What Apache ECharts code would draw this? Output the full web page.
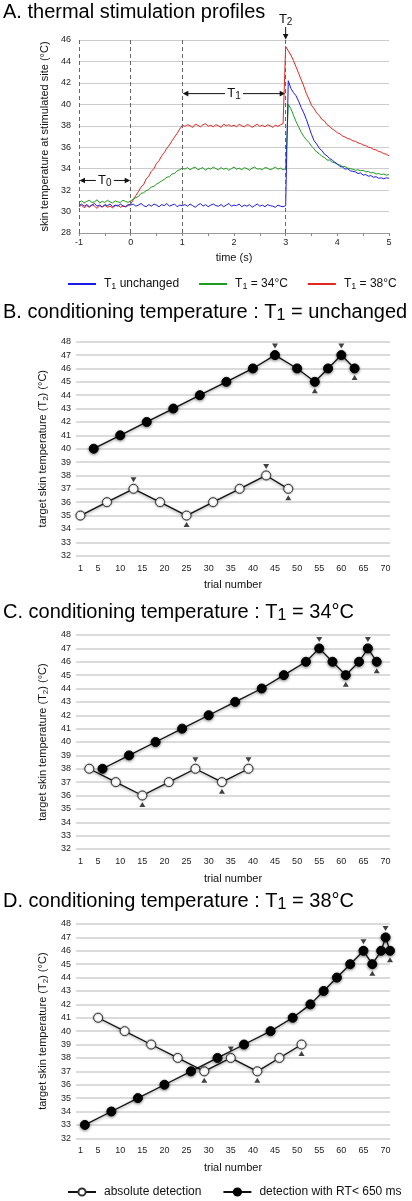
<!DOCTYPE html>
<html><head><meta charset="utf-8">
<script src="https://cdn.jsdelivr.net/npm/echarts@6/dist/echarts.min.js"></script>
<style>html,body{margin:0;padding:0;background:#fff}#c{width:412px;height:1201px}</style>
</head><body><div id="c"></div><script>
const FONT = "'Liberation Sans', Arial, Helvetica, sans-serif";

// ---------- Panel A : thermal stimulation profiles ----------
const timeS = [-1,-0.95,-0.9,-0.85,-0.8,-0.75,-0.7,-0.65,-0.6,-0.55,-0.5,-0.45,-0.4,-0.35,-0.3,-0.25,-0.2,-0.15,-0.1,-0.05,0,
0.05,0.1,0.15,0.2,0.25,0.3,0.35,0.4,0.45,0.5,0.55,0.6,0.65,0.7,0.75,0.8,0.85,0.9,0.95,1,
1.05,1.1,1.15,1.2,1.25,1.3,1.35,1.4,1.45,1.5,1.55,1.6,1.65,1.7,1.75,1.8,1.85,1.9,1.95,2,
2.05,2.1,2.15,2.2,2.25,2.3,2.35,2.4,2.45,2.5,2.55,2.6,2.65,2.7,2.75,2.8,2.85,2.9,2.95,3,
3.05,3.1,3.15,3.2,3.25,3.3,3.35,3.4,3.45,3.5,3.55,3.6,3.65,3.7,3.75,3.8,3.85,3.9,3.95,4,
4.05,4.1,4.15,4.2,4.25,4.3,4.35,4.4,4.45,4.5,4.55,4.6,4.65,4.7,4.75,4.8,4.85,4.9,4.95,5];

const tempUnchanged = [30.55,30.7,30.5,30.65,30.45,30.6,30.75,30.5,30.6,30.4,30.65,30.55,30.7,30.45,30.6,30.5,30.7,30.55,30.45,30.65,30.6,
30.7,30.5,30.6,30.75,30.55,30.45,30.65,30.5,30.7,30.6,30.45,30.65,30.55,30.75,30.5,30.6,30.7,30.45,30.6,30.55,
30.65,30.5,30.7,30.55,30.4,30.6,30.75,30.5,30.65,30.45,30.6,30.7,30.55,30.5,30.65,30.45,30.6,30.75,30.5,30.6,
30.55,30.7,30.45,30.6,30.5,30.65,30.4,30.55,30.7,30.5,30.6,30.45,30.65,30.55,30.5,30.4,30.6,30.5,30.45,30.55,
42.2,41.5,41.1,40.8,40.3,39.7,39.2,38.6,37.9,37.2,36.6,36.3,35.9,35.7,35.35,35.2,34.95,34.8,34.6,
34.45,34.2,34.15,33.95,34.0,33.8,33.75,33.7,33.55,33.6,33.4,33.45,33.3,33.35,33.2,33.25,33.1,33.15,33.05,33.15,33.1];

const temp34 = [30.85,31.0,30.8,30.95,31.05,30.85,30.9,31.1,30.8,30.95,30.85,31.05,30.9,30.8,31.0,30.9,30.85,31.05,30.95,30.85,31.0,
31.15,31.3,31.4,31.7,31.75,31.95,32.05,32.3,32.35,32.55,32.7,32.85,33.0,33.2,33.25,33.5,33.55,33.8,33.9,34.05,
33.95,34.1,33.9,34.05,34.15,33.9,34.0,34.1,33.85,34.05,33.95,34.15,34.0,33.9,34.1,33.95,34.05,33.85,34.0,34.15,
33.95,34.05,33.9,34.1,34.0,33.85,34.05,34.15,33.95,34.0,33.9,34.1,34.05,33.9,34.0,34.15,33.95,34.05,33.9,34.0,
40.0,39.6,39.0,38.4,37.9,37.4,37.0,36.7,36.45,36.1,35.85,35.55,35.4,35.15,35.05,34.8,34.8,34.6,34.55,34.4,
34.35,34.2,34.2,34.05,34.0,33.95,33.85,33.9,33.8,33.85,33.7,33.75,33.6,33.65,33.5,33.55,33.45,33.5,33.4,33.45];

const temp38 = [30.45,30.6,30.35,30.55,30.4,30.65,30.5,30.3,30.55,30.45,30.6,30.4,30.5,30.35,30.55,30.6,30.4,30.5,30.45,30.55,30.7,
31.1,31.5,31.85,32.3,32.5,33.05,33.3,33.75,34.0,34.5,34.75,35.2,35.5,35.9,36.2,36.6,36.95,37.3,37.7,38.05,
37.95,38.1,38.0,37.85,38.15,38.05,37.9,38.1,38.2,37.95,38.05,37.9,38.1,38.0,37.85,38.15,38.0,38.1,37.95,38.05,
37.9,38.15,38.0,37.9,38.1,38.05,37.85,38.0,38.15,37.95,38.05,37.9,38.1,38.0,37.85,38.05,37.95,38.1,38.2,45.4,
45.0,44.6,44.1,43.5,42.9,42.3,41.7,41.0,40.5,39.9,39.6,39.2,38.95,38.6,38.45,38.1,37.95,37.7,37.55,37.35,
37.25,37.05,36.95,36.8,36.75,36.6,36.55,36.4,36.35,36.2,36.15,36.0,35.95,35.8,35.75,35.6,35.55,35.4,35.35,35.2];

const phaseMarks = [-1, 0, 1, 3];   // dashed phase boundaries (s)

// ---------- Panels B-D : staircases ----------
const trialTicks = [1,5,10,15,20,25,30,35,40,45,50,55,60,65,70];

const trialsB_abs = [1,7,13,19,25,31,37,43,48];
const tempB_abs   = [35,36,37,36,35,36,37,38,37];
const trialsB_rt  = [4,10,16,22,28,34,40,45,50,54,57,60,63];
const tempB_rt    = [40,41,42,43,44,45,46,47,46,45,46,47,46];
const revDownB = [[13,37],[43,38],[45,47],[60,47]];
const revUpB   = [[25,35],[48,37],[54,45],[63,46]];

const trialsC_abs = [3,9,15,21,27,33,39];
const tempC_abs   = [38,37,36,37,38,37,38];
const trialsC_rt  = [6,12,18,24,30,36,42,47,52,55,58,61,64,66,68];
const tempC_rt    = [38,39,40,41,42,43,44,45,46,47,46,45,46,47,46];
const revDownC = [[27,38],[39,38],[55,47],[66,47]];
const revUpC   = [[15,36],[33,37],[61,45],[68,46]];

const trialsD_abs = [5,11,17,23,29,35,41,46,51];
const tempD_abs   = [41,40,39,38,37,38,37,38,39];
const trialsD_rt  = [2,8,14,20,26,32,38,44,49,53,56,59,62,65,67,69,70,71];
const tempD_rt    = [33,34,35,36,37,38,39,40,41,42,43,44,45,46,45,46,47,46];
const revDownD = [[35,38],[65,46],[70,47]];
const revUpD   = [[29,37],[41,37],[51,39],[67,45],[71,46]];

const chart = echarts.init(document.getElementById('c'), null, {renderer:'canvas'});

const titleRich = {
  m: {fontSize: 20, lineHeight: 24, fontFamily: FONT, fontWeight: 'normal', color: '#000'},
  s: {fontSize: 16, lineHeight: 16, verticalAlign: 'bottom', fontFamily: FONT, fontWeight: 'normal', color: '#000'}
};
const nameRich = {
  m: {fontSize: 11, lineHeight: 14, fontFamily: FONT, color: '#111'},
  s: {fontSize: 8, lineHeight: 8, verticalAlign: 'bottom', fontFamily: FONT, color: '#111'}
};
function mkTitle(txt, top) {
  return {text: txt, left: 3, top: top, padding: 0,
    textStyle: {fontFamily: FONT, fontWeight: 'normal', fontSize: 20, color: '#000', rich: titleRich}};
}

function profile(name, vals, color, extra) {
  return Object.assign({
    name, type: 'line', xAxisIndex: 0, yAxisIndex: 0, symbol: 'none',
    data: vals.map((v, i) => [timeS[i], v]),
    lineStyle: {color, width: 1}, itemStyle: {color}, animation: false
  }, extra || {});
}

const shadow = {shadowBlur: 3, shadowColor: 'rgba(0,0,0,0.45)', shadowOffsetY: 1};
function panel(k, tA, vA, tR, vR, down, up) {
  return [
    {name: 'absolute detection', type: 'line', xAxisIndex: k, yAxisIndex: k, clip: false,
      data: tA.map((t, i) => [t, vA[i]]), symbol: 'circle', symbolSize: 9, showAllSymbol: true,
      lineStyle: Object.assign({color: '#111', width: 1.3}, shadow),
      itemStyle: {color: '#fff', borderColor: '#333', borderWidth: 1, shadowBlur: 2, shadowColor: 'rgba(0,0,0,0.4)'},
      animation: false, z: 3},
    {name: 'detection with RT< 650 ms', type: 'line', xAxisIndex: k, yAxisIndex: k, clip: false,
      data: tR.map((t, i) => [t, vR[i]]), symbol: 'circle', symbolSize: 9, showAllSymbol: true,
      lineStyle: Object.assign({color: '#111', width: 1.3}, shadow),
      itemStyle: Object.assign({color: '#000', borderColor: '#000', borderWidth: 1}, shadow),
      animation: false, z: 4},
    {type: 'scatter', xAxisIndex: k, yAxisIndex: k, data: down, symbol: 'triangle', symbolRotate: 180,
      symbolSize: [6, 5], symbolOffset: [0, -9], itemStyle: {color: '#111'}, silent: true, animation: false, clip: false},
    {type: 'scatter', xAxisIndex: k, yAxisIndex: k, data: up, symbol: 'triangle',
      symbolSize: [6, 5], symbolOffset: [0, 9], itemStyle: {color: '#111'}, silent: true, animation: false, clip: false}
  ];
}

const trialX = (k) => ({
  type: 'value', gridIndex: k, min: 0, max: 71,
  axisLine: {show: false}, axisTick: {show: false}, splitLine: {show: false},
  axisLabel: {customValues: trialTicks, fontSize: 9, color: '#222', fontFamily: FONT, margin: 8},
  name: 'trial number', nameLocation: 'middle', nameGap: 24,
  nameTextStyle: {fontSize: 11, color: '#111', fontFamily: FONT}
});
const tempY = (k) => ({
  type: 'value', gridIndex: k, min: 32, max: 48, interval: 1,
  axisLine: {show: false}, axisTick: {show: false},
  splitLine: {lineStyle: {color: '#cfcfcf', width: 1.5}},
  axisLabel: {fontSize: 9, color: '#222', fontFamily: FONT, margin: 5},
  name: '{m|target skin temperature (T}{s|2}{m|) (°C)}', nameLocation: 'middle', nameRotate: 90, nameGap: 26,
  nameTextStyle: {fontSize: 11, color: '#111', fontFamily: FONT, rich: nameRich}
});

const option = {
  animation: false,
  backgroundColor: '#fff',
  textStyle: {fontFamily: FONT},
  title: [
    mkTitle('{m|A. thermal stimulation profiles}', 0),
    mkTitle('{m|B. conditioning temperature : T}{s|1}{m| = unchanged}', 300),
    mkTitle('{m|C. conditioning temperature : T}{s|1}{m| = 34°C}', 600),
    mkTitle('{m|D. conditioning temperature : T}{s|1}{m| = 38°C}', 889)
  ],
  legend: [
    {data: ['T1 unchanged', 'T1 = 34°C', 'T1 = 38°C'], top: 273, left: 63, itemWidth: 28, itemHeight: 2, itemGap: 20,
      icon: 'rect',
      formatter: (n) => '{m|T}{s|1}{m|' + n.slice(2) + '}',
      textStyle: {fontSize: 12, color: '#111', fontFamily: FONT, padding: [0, 0, 0, 3],
        rich: {m: {fontSize: 12, lineHeight: 15, fontFamily: FONT, color: '#111'},
               s: {fontSize: 9, lineHeight: 9, verticalAlign: 'bottom', fontFamily: FONT, color: '#111'}}}},
    {data: ['absolute detection', 'detection with RT< 650 ms'], top: 1181, left: 62, itemWidth: 28, itemHeight: 9, itemGap: 21,
      textStyle: {fontSize: 12, color: '#111', fontFamily: FONT, padding: [0, 0, 0, 3]}}
  ],
  grid: [
    {left: 79, width: 310, top: 40, height: 193},
    {left: 76, width: 314, top: 341.7, height: 214},
    {left: 76, width: 314, top: 635, height: 214},
    {left: 76, width: 314, top: 924, height: 214.3}
  ],
  xAxis: [
    {type: 'value', gridIndex: 0, min: -1, max: 5, interval: 1,
      axisLine: {show: true, onZero: false, lineStyle: {color: '#999'}},
      axisTick: {show: true, length: 3, lineStyle: {color: '#888'}},
      minorTick: {show: true, splitNumber: 2, length: 3, lineStyle: {color: '#888'}},
      splitLine: {show: false},
      axisLabel: {fontSize: 9, color: '#222', fontFamily: FONT, margin: 5},
      name: 'time (s)', nameLocation: 'middle', nameGap: 19,
      nameTextStyle: {fontSize: 11, color: '#111', fontFamily: FONT}},
    trialX(1), trialX(2), trialX(3)
  ],
  yAxis: [
    {type: 'value', gridIndex: 0, min: 28, max: 46, interval: 2,
      axisLine: {show: false}, axisTick: {show: false},
      splitLine: {lineStyle: {color: '#cccccc', width: 1}},
      axisLabel: {fontSize: 9, color: '#222', fontFamily: FONT, margin: 8},
      name: 'skin temperature at stimulated site (°C)', nameLocation: 'middle', nameRotate: 90, nameGap: 28,
      nameTextStyle: {fontSize: 11, color: '#111', fontFamily: FONT}},
    tempY(1), tempY(2), tempY(3)
  ],
  series: [
    profile('T1 = 38°C', temp38, '#e3261f', {
      markLine: {silent: true, symbol: 'none', animation: false, label: {show: false},
        lineStyle: {type: [4, 3], color: '#666', width: 1},
        data: phaseMarks.map(x => ({xAxis: x}))}
    }),
    profile('T1 = 34°C', temp34, '#1e9a1e'),
    profile('T1 unchanged', tempUnchanged, '#1a1ae6'),
    ...panel(1, trialsB_abs, tempB_abs, trialsB_rt, tempB_rt, revDownB, revUpB),
    ...panel(2, trialsC_abs, tempC_abs, trialsC_rt, tempC_rt, revDownC, revUpC),
    ...panel(3, trialsD_abs, tempD_abs, trialsD_rt, tempD_rt, revDownD, revUpD)
  ]
};
chart.setOption(option);

// ---------- annotations for panel A (T0, T1, T2) ----------
const annRich = {
  m: {fontSize: 13, lineHeight: 16, fontFamily: FONT, fill: '#111'},
  s: {fontSize: 10, lineHeight: 10, verticalAlign: 'bottom', fontFamily: FONT, fill: '#111'}
};
function px(x, y) { return chart.convertToPixel({gridIndex: 0}, [x, y]); }
function hArrow(x0, x1, yv, sub) {
  const a = px(x0, yv), b = px(x1, yv);
  const y = a[1], cx = (a[0] + b[0]) / 2, half = 9;
  const ls = {stroke: '#111', lineWidth: 1};
  return [
    {type: 'line', shape: {x1: a[0] + 5, y1: y, x2: cx - half, y2: y}, style: ls, silent: true},
    {type: 'line', shape: {x1: cx + half, y1: y, x2: b[0] - 5, y2: y}, style: ls, silent: true},
    {type: 'polygon', shape: {points: [[a[0] + 0.5, y], [a[0] + 6, y - 2.8], [a[0] + 6, y + 2.8]]}, style: {fill: '#111'}, silent: true},
    {type: 'polygon', shape: {points: [[b[0] - 0.5, y], [b[0] - 6, y - 2.8], [b[0] - 6, y + 2.8]]}, style: {fill: '#111'}, silent: true},
    {type: 'text', x: cx, y: y, silent: true,
      style: {text: '{m|T}{s|' + sub + '}', align: 'center', verticalAlign: 'middle', rich: annRich}}
  ];
}
const t2 = px(3, 46);
const graphics = [
  ...hArrow(-1, 0, 32.9, '0'),
  ...hArrow(1, 3, 41, '1'),
  {type: 'text', x: t2[0], y: t2[1] - 21, silent: true,
    style: {text: '{m|T}{s|2}', align: 'center', verticalAlign: 'middle', rich: annRich}},
  {type: 'line', shape: {x1: t2[0], y1: t2[1] - 13, x2: t2[0], y2: t2[1] - 5}, style: {stroke: '#111', lineWidth: 1}, silent: true},
  {type: 'polygon', shape: {points: [[t2[0], t2[1] - 0.5], [t2[0] - 2.8, t2[1] - 6], [t2[0] + 2.8, t2[1] - 6]]}, style: {fill: '#111'}, silent: true}
];
chart.setOption({graphic: graphics});
</script></body></html>
